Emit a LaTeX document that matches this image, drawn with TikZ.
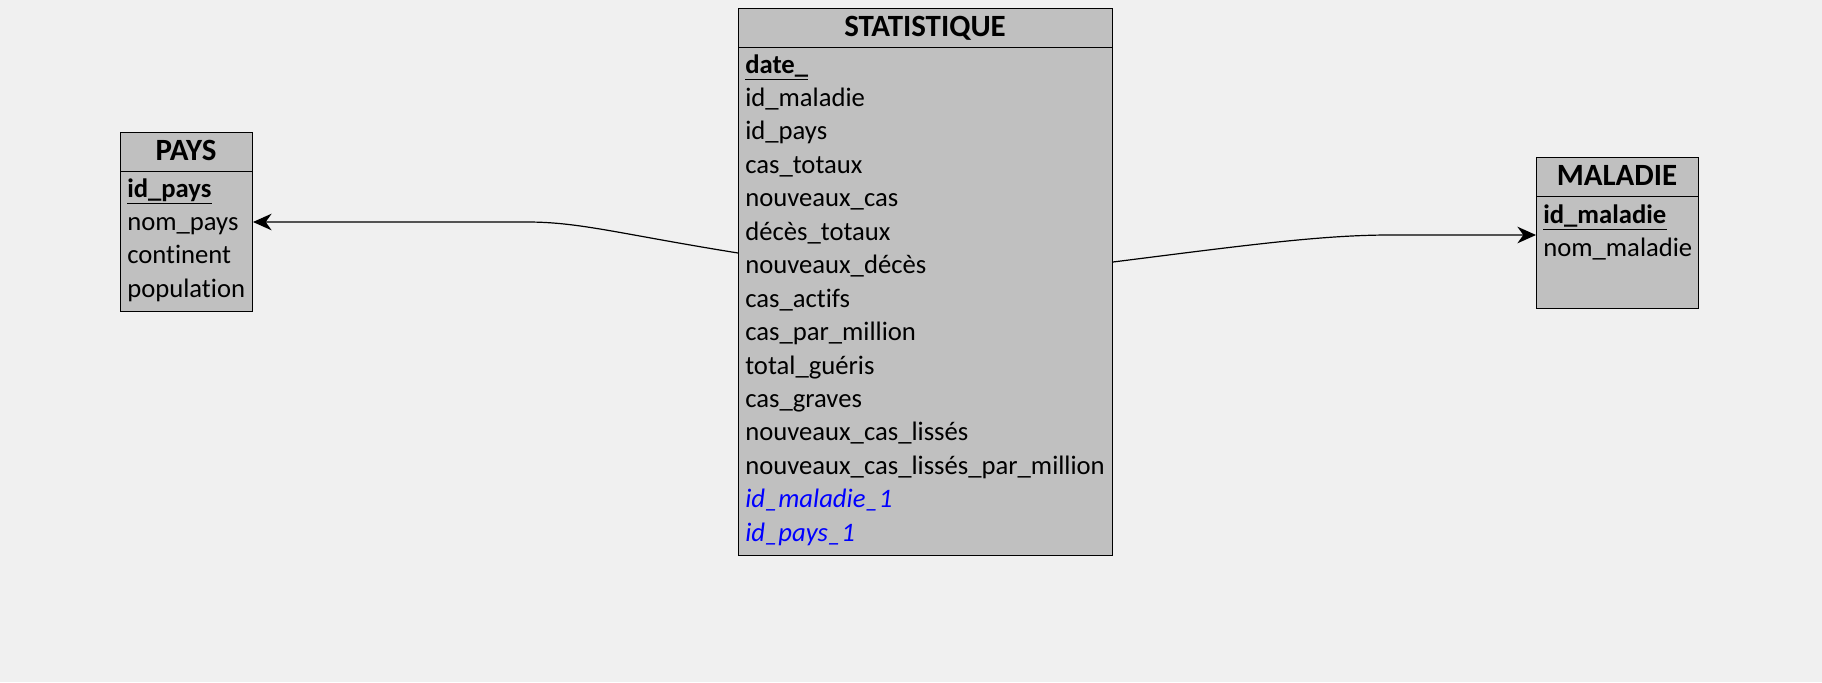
\documentclass[tikz,border=0pt]{standalone}
\usepackage{fontspec}
\setmainfont{Carlito}[Ligatures={NoCommon,NoRare,NoContextual}]
\usetikzlibrary{arrows.meta}
\definecolor{bg}{RGB}{240,240,240}
\definecolor{boxgray}{RGB}{192,192,192}
\definecolor{fkblue}{RGB}{0,0,255}
\begin{document}
\begin{tikzpicture}[x=0.75pt,y=-0.75pt,
  tbl/.style={draw=black, line width=0.75pt, fill=boxgray, inner sep=0, anchor=north west},
  hdr/.style={draw=black, line width=0.75pt},
  ttl/.style={font=\fontsize{23.2}{27}\selectfont\bfseries, inner sep=0, anchor=base},
  fld/.style={font=\fontsize{20}{24}\selectfont, inner sep=0, anchor=base west},
  pk/.style={inner sep=0, anchor=base west, font=\fontsize{20}{24}\selectfont\bfseries},
  fk/.style={inner sep=0, anchor=base west, font=\fontsize{20}{24}\selectfont\itshape, text=fkblue},
  uline/.style={draw=black, line width=0.75pt},
  rel/.style={draw=black, line width=0.9pt, -{Stealth[length=14pt,width=12.5pt,inset=4.5pt]}}]
\fill[bg] (0,0) rectangle (1822,682);
\useasboundingbox (0,0) rectangle (1822,682);

% PAYS
\node[tbl, minimum width=99pt, minimum height=134.25pt] (pays) at (120,132) {};
\draw[hdr] (120,171) -- (252,171);
\node[ttl] (paysT) at (186,160) {PAYS};
\node[pk]  (p1) at (127,197)   {id\_pays};
\node[fld] (p2) at (127,230.4) {nom\_pays};
\node[fld] (p3) at (127,263.8) {continent};
\node[fld] (p4) at (127,297.2) {population};
\draw[uline] ([yshift=-4.5pt]p1.base west) -- ([yshift=-4.5pt]p1.base east);

% STATISTIQUE
\node[tbl, minimum width=280.5pt, minimum height=410.25pt] (stat) at (738,8) {};
\draw[hdr] (738,47) -- (1112,47);
\node[ttl] (statT) at (925,36) {STATISTIQUE};
\node[pk]  (s0)  at (745,73.0)  {date\_};
\node[fld] (s1)  at (745,106.45) {id\_maladie};
\node[fld] (s2)  at (745,139.9) {id\_pays};
\node[fld] (s3)  at (745,173.35) {cas\_totaux};
\node[fld] (s4)  at (745,206.8) {nouveaux\_cas};
\node[fld] (s5)  at (745,240.25) {décès\_totaux};
\node[fld] (s6)  at (745,273.7) {nouveaux\_décès};
\node[fld] (s7)  at (745,307.15) {cas\_actifs};
\node[fld] (s8)  at (745,340.6) {cas\_par\_million};
\node[fld] (s9)  at (745,374.05) {total\_guéris};
\node[fld] (s10) at (745,407.5) {cas\_graves};
\node[fld] (s11) at (745,440.95) {nouveaux\_cas\_lissés};
\node[fld] (s12) at (745,474.4) {nouveaux\_cas\_lissés\_par\_million};
\node[fk]  (s13) at (745,507.85) {id\_maladie\_1};
\node[fk]  (s14) at (745,541.3) {id\_pays\_1};
\draw[uline] ([yshift=-4.5pt]s0.base west) -- ([yshift=-4.5pt]s0.base east);

% MALADIE
\node[tbl, minimum width=121.5pt, minimum height=113.25pt] (mal) at (1536,157) {};
\draw[hdr] (1536,196) -- (1698,196);
\node[ttl] (malT) at (1617,185) {MALADIE};
\node[pk]  (m1) at (1543,223) {id\_maladie};
\node[fld] (m2) at (1543,256) {nom\_maladie};
\draw[uline] ([yshift=-4.5pt]m1.base west) -- ([yshift=-4.5pt]m1.base east);

% connectors
\coordinate (sL) at (stat.west |- 0,253);
\coordinate (pR) at (pays.east |- 0,222);
\coordinate (sR) at (stat.east |- 0,262);
\coordinate (mL) at (mal.west |- 0,235);
\draw[rel] (sL) .. controls (620,234) and (580,222) .. (527,222) -- (pR);
\draw[rel] (sR) .. controls (1240,246) and (1320,235) .. (1390,235) -- (mL);
\end{tikzpicture}
\end{document}
